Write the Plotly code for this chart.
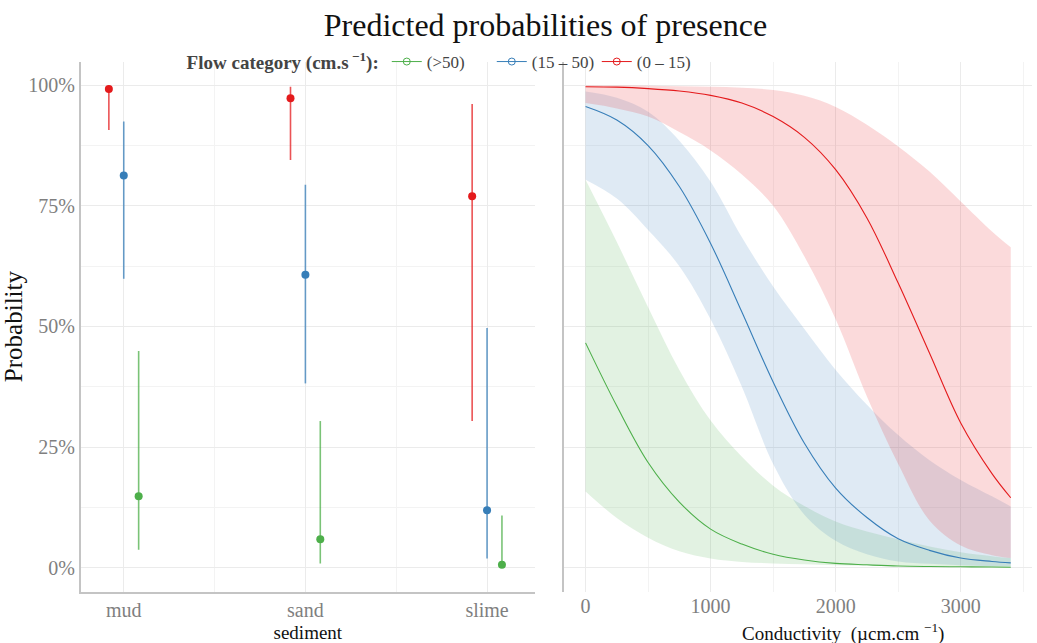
import plotly.graph_objects as go

# ---------------- data ----------------
sediment = ["mud", "sand", "slime"]
flow_labels = ["(>50)", "(15 – 50)", "(0 – 15)"]

# point ranges (percent) by sediment, for each flow category
p_fast = [14.8, 5.9, 0.6]
lo_fast = [3.7, 0.9, 0.0]
hi_fast = [44.9, 30.4, 10.8]

p_mid = [81.3, 60.7, 11.9]
lo_mid = [59.9, 38.2, 1.9]
hi_mid = [92.5, 79.4, 49.7]

p_slow = [99.2, 97.3, 77.0]
lo_slow = [90.7, 84.5, 30.4]
hi_slow = [99.9, 99.7, 96.1]

# conductivity curves (percent)
cond = [0, 250, 500, 750, 1000, 1250, 1500, 1750, 2000, 2250, 2500, 2750, 3000, 3250, 3400]

fit_slow = [99.7, 99.6, 99.3, 98.8, 97.9, 96.3, 93.5, 89.2, 82.5, 72.5, 59.0, 44.5, 30.0, 19.5, 14.5]
upr_slow = [100.0, 99.95, 99.9, 99.8, 99.7, 99.5, 99.0, 97.8, 95.5, 91.8, 87.3, 82.1, 75.9, 69.7, 66.4]
lwr_slow = [96.3, 95.2, 93.5, 90.3, 86.5, 81.5, 75.0, 64.5, 51.5, 35.5, 21.5, 9.8, 4.6, 2.6, 2.0]

fit_mid = [95.6, 92.8, 87.5, 79.0, 67.2, 53.0, 38.5, 25.8, 16.5, 10.4, 6.0, 3.6, 2.0, 1.3, 1.0]
upr_mid = [98.7, 97.4, 94.5, 88.5, 80.0, 68.5, 58.3, 49.5, 41.0, 33.8, 27.5, 22.3, 18.2, 14.8, 12.7]
lwr_mid = [80.4, 76.5, 70.0, 62.5, 51.5, 37.5, 21.5, 11.0, 5.6, 2.8, 1.3, 0.8, 0.5, 0.3, 0.3]

fit_fast = [46.6, 33.5, 21.8, 13.6, 8.0, 4.9, 2.8, 1.6, 0.9, 0.6, 0.35, 0.25, 0.2, 0.15, 0.1]
upr_fast = [80.4, 67.5, 54.0, 41.0, 30.5, 23.0, 17.0, 12.8, 9.6, 7.5, 5.9, 4.4, 3.2, 2.4, 2.0]
lwr_fast = [15.8, 10.3, 6.2, 3.4, 1.9, 1.2, 0.9, 0.7, 0.5, 0.4, 0.3, 0.25, 0.2, 0.15, 0.1]

y_ticks = [0, 25, 50, 75, 100]
y_ticktext = ["0%", "25%", "50%", "75%", "100%"]
x2_ticks = [0, 1000, 2000, 3000]

# ---------------- styles ----------------
GREEN = "#4DAF4A"
BLUE = "#377EB8"
RED = "#E41A1C"
FONT = "Liberation Serif"
TICKGREY = "#7F7F7F"
GRID = "#EBEBEB"
MINOR = "#F3F3F3"
AXLINE = "#C4C4C4"


def rgba(hexc, a):
    h = hexc.lstrip("#")
    r, g, b = int(h[0:2], 16), int(h[2:4], 16), int(h[4:6], 16)
    return f"rgba({r},{g},{b},{a})"


fig = go.Figure()

dodge = 0.082
groups = [
    (flow_labels[0], GREEN, p_fast, lo_fast, hi_fast, +dodge),
    (flow_labels[1], BLUE, p_mid, lo_mid, hi_mid, 0.0),
    (flow_labels[2], RED, p_slow, lo_slow, hi_slow, -dodge),
]

# left panel: point ranges
for name, col, p, lo, hi, off in groups:
    xs = [i + off for i in range(len(sediment))]
    fig.add_trace(go.Scatter(
        x=xs, y=p, mode="markers", name=name, showlegend=False,
        marker=dict(color=col, size=8),
        error_y=dict(type="data", symmetric=False,
                     array=[h - v for h, v in zip(hi, p)],
                     arrayminus=[v - l for v, l in zip(p, lo)],
                     color=rgba(col, 0.75), thickness=1.6, width=0),
        xaxis="x", yaxis="y",
    ))

# right panel: ribbons then lines
bands = [
    (GREEN, fit_fast, upr_fast, lwr_fast),
    (BLUE, fit_mid, upr_mid, lwr_mid),
    (RED, fit_slow, upr_slow, lwr_slow),
]
SM = 1.0
for col, fit, upr, lwr in bands:
    fig.add_trace(go.Scatter(
        x=cond, y=lwr, mode="lines", line=dict(width=0, shape="spline", smoothing=SM),
        showlegend=False, hoverinfo="skip", xaxis="x2", yaxis="y2",
    ))
    fig.add_trace(go.Scatter(
        x=cond, y=upr, mode="lines", fill="tonexty", fillcolor=rgba(col, 0.16),
        line=dict(width=0, shape="spline", smoothing=SM),
        showlegend=False, hoverinfo="skip", xaxis="x2", yaxis="y2",
    ))
for col, fit, upr, lwr in bands:
    fig.add_trace(go.Scatter(
        x=cond, y=fit, mode="lines", showlegend=False,
        line=dict(color=col, width=1.1, shape="spline", smoothing=SM),
        xaxis="x2", yaxis="y2",
    ))

# legend entries
for name, col, *_ in groups:
    fig.add_trace(go.Scatter(
        x=[None], y=[None], mode="lines+markers", name=name,
        line=dict(color=col, width=1),
        marker=dict(symbol="circle-open", size=7, color=col, line=dict(width=1)),
        xaxis="x", yaxis="y",
    ))

ydom = [1 - 591.6 / 643, 1 - 61.6 / 643]
yrange = [-4.95, 104.9]

fig.update_layout(
    width=1037, height=643,
    margin=dict(l=0, r=0, t=0, b=0, autoexpand=False),
    paper_bgcolor="white", plot_bgcolor="white",
    font=dict(family=FONT, size=18, color="#222222"),
    title=dict(text="Predicted probabilities of presence", x=0.526, xanchor="center",
               y=1 - 25 / 643, yanchor="middle",
               font=dict(family=FONT, size=32, color="#111111")),
    showlegend=True,
    legend=dict(orientation="h", x=0.178, xanchor="left", y=1 - 62 / 643, yanchor="middle",
                traceorder="normal",
                title=dict(text="<b>Flow category (cm.s<sup> −1</sup>):</b>",
                           font=dict(family=FONT, size=19, color="#444444"), side="left"),
                font=dict(family=FONT, size=17, color="#444444"),
                itemwidth=30, entrywidth=60, entrywidthmode="pixels",
                bgcolor="rgba(0,0,0,0)", tracegroupgap=0),
    xaxis=dict(domain=[80.7 / 1037, 535 / 1037], range=[-0.237, 2.264], automargin=False,
               tickvals=[0, 1, 2], ticktext=sediment, showgrid=True, gridcolor=GRID,
               gridwidth=1, zeroline=False,
               minor=dict(tickvals=[0.5, 1.5], showgrid=True, gridcolor=MINOR, gridwidth=1),
               showline=True, linecolor=AXLINE, linewidth=1.5, ticks="",
               tickfont=dict(family=FONT, size=20, color=TICKGREY),
               title=dict(text="sediment", font=dict(family=FONT, size=19, color="#111111"),
                          standoff=6),
               anchor="y"),
    yaxis=dict(domain=ydom, range=yrange, tickvals=y_ticks, ticktext=y_ticktext, automargin=False,
               showgrid=True, gridcolor=GRID, zeroline=False,
               minor=dict(dtick=12.5, tick0=0, showgrid=True, gridcolor=MINOR),
               showline=True, linecolor=AXLINE, linewidth=1.5, ticks="",
               tickfont=dict(family=FONT, size=20, color=TICKGREY),
               title=dict(text="Probability", font=dict(family=FONT, size=25, color="#111111"),
                          standoff=10),
               anchor="x"),
    xaxis2=dict(domain=[564.3 / 1037, 1032 / 1037], range=[-170, 3570], automargin=False,
                tickvals=x2_ticks, showgrid=True, gridcolor=GRID, zeroline=False,
                minor=dict(dtick=500, tick0=0, showgrid=True, gridcolor=MINOR),
                showline=False, ticks="",
                tickfont=dict(family=FONT, size=20, color=TICKGREY),
                anchor="y2"),
    yaxis2=dict(domain=ydom, range=yrange, tickvals=y_ticks, showticklabels=False, automargin=False,
                showgrid=True, gridcolor=GRID, zeroline=False,
                minor=dict(dtick=12.5, tick0=0, showgrid=True, gridcolor=MINOR),
                showline=True, linecolor=AXLINE, linewidth=1.5, ticks="",
                anchor="x2"),
    annotations=[dict(text="Conductivity  (µcm.cm <sup>−1</sup>)", xref="paper", yref="paper",
                      x=843 / 1037, y=1 - 632 / 643, xanchor="center", yanchor="middle",
                      showarrow=False, font=dict(family=FONT, size=19, color="#111111"))],
)

fig.write_html("out.html", post_script="document.body.style.margin='0';",
               config={"displayModeBar": False})
